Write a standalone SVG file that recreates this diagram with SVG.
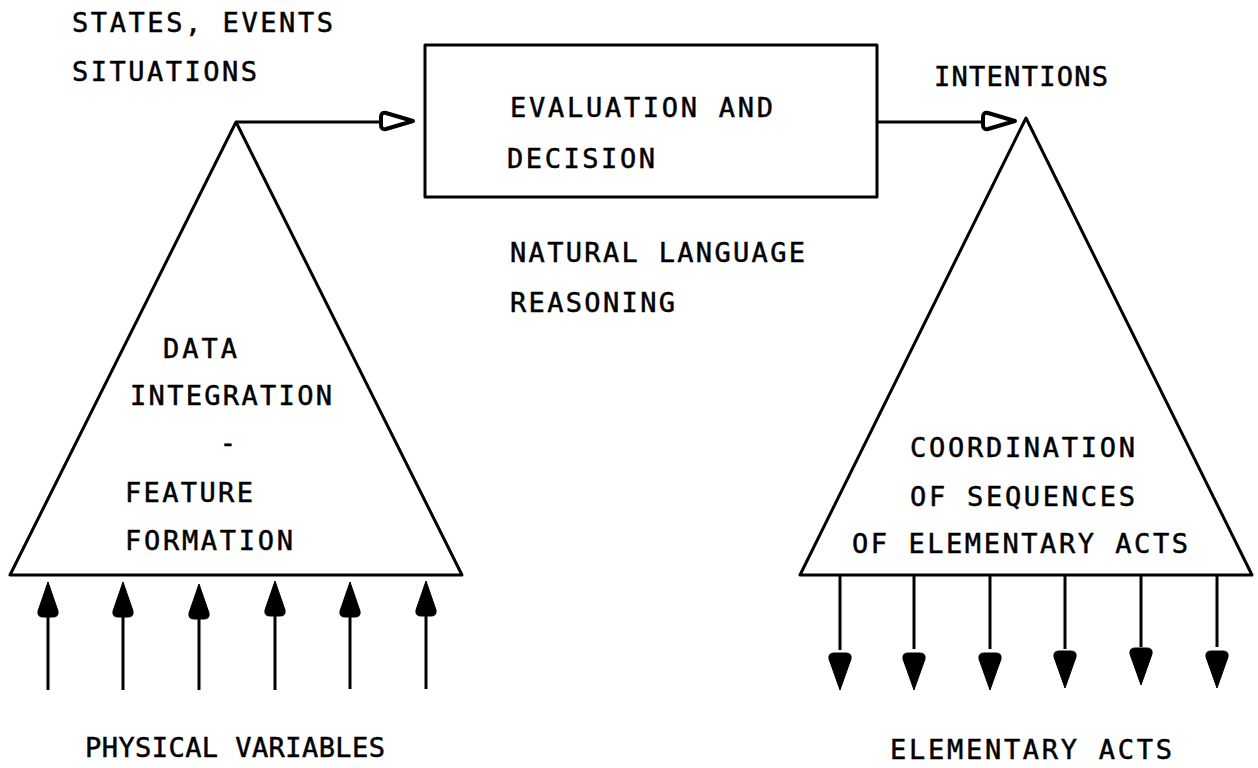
<svg xmlns="http://www.w3.org/2000/svg" xmlns:xlink="http://www.w3.org/1999/xlink" width="1258" height="768" viewBox="0 0 1258 768">
<style>
  .bg { fill: #ffffff; }
  .shape { fill: none; stroke: #000; stroke-width: 3; stroke-linejoin: round; }
  .line { stroke: #000; stroke-width: 3; fill: none; }
  .head { fill: #000; stroke: #000; stroke-width: 1; }
  .hhead { fill: #fff; stroke: #000; stroke-width: 4; stroke-linejoin: round; }
  text { font-family: "DejaVu Sans Mono", "Liberation Mono", monospace; font-size: 27px; fill: #000; stroke: #000; stroke-width: 0.5; }
</style>
<defs>
  <path id="headUp" d="M0,0 L10,29 Q11,35 5,35 L-5,35 Q-11,35 -10,29 Z"/>
  <path id="headDown" d="M0,0 L11,-31 Q12,-37 6,-37 L-6,-37 Q-12,-37 -11,-31 Z"/>
  <path id="headRight" d="M0,0 L-27,-8 Q-32,-9 -32,-4 L-32,4 Q-32,9 -27,8 Z"/>
</defs>
<rect class="bg" x="0" y="0" width="1258" height="768"/>

<g id="labels-top">
  <text x="72" y="32" textLength="261" lengthAdjust="spacing">STATES, EVENTS</text>
  <text x="72" y="81" textLength="185" lengthAdjust="spacing">SITUATIONS</text>
  <text x="934" y="86" textLength="174" lengthAdjust="spacing">INTENTIONS</text>
</g>

<g id="node-integration">
  <polygon class="shape" points="236,122 10,575 462,575"/>
  <text x="163" y="358" textLength="74" lengthAdjust="spacing">DATA</text>
  <text x="130" y="405" textLength="202" lengthAdjust="spacing">INTEGRATION</text>
  <text x="228" y="452" text-anchor="middle">-</text>
  <text x="125" y="502" textLength="128" lengthAdjust="spacing">FEATURE</text>
  <text x="125" y="550" textLength="168" lengthAdjust="spacing">FORMATION</text>
</g>

<g id="node-decision">
  <rect class="shape" x="425" y="45" width="452" height="152"/>
  <text x="510" y="117" textLength="263" lengthAdjust="spacing">EVALUATION AND</text>
  <text x="507" y="168" textLength="148" lengthAdjust="spacing">DECISION</text>
</g>

<g id="label-reasoning">
  <text x="510" y="262" textLength="295" lengthAdjust="spacing">NATURAL LANGUAGE</text>
  <text x="510" y="312" textLength="165" lengthAdjust="spacing">REASONING</text>
</g>

<g id="node-coordination">
  <polygon class="shape" points="1026,118 800,575 1252,575"/>
  <text x="910" y="457" textLength="225" lengthAdjust="spacing">COORDINATION</text>
  <text x="910" y="506" textLength="225" lengthAdjust="spacing">OF SEQUENCES</text>
  <text x="852" y="553" textLength="336" lengthAdjust="spacing">OF ELEMENTARY ACTS</text>
</g>

<g id="labels-bottom">
  <text x="85" y="757" textLength="300" lengthAdjust="spacing">PHYSICAL VARIABLES</text>
  <text x="890" y="759" textLength="282" lengthAdjust="spacing">ELEMENTARY ACTS</text>
</g>

<g id="connectors">
  <line class="line" x1="236" y1="122" x2="385" y2="122"/>
  <use xlink:href="#headRight" class="hhead" x="413" y="121"/>
  <line class="line" x1="877" y1="122" x2="986" y2="122"/>
  <use xlink:href="#headRight" class="hhead" x="1015" y="121"/>

  <line class="line" x1="48" y1="612" x2="48" y2="690"/>
  <use xlink:href="#headUp" class="head" x="48" y="582"/>
  <line class="line" x1="123" y1="612" x2="123" y2="690"/>
  <use xlink:href="#headUp" class="head" x="123" y="582"/>
  <line class="line" x1="199" y1="612" x2="199" y2="690"/>
  <use xlink:href="#headUp" class="head" x="199" y="584"/>
  <line class="line" x1="275" y1="612" x2="275" y2="690"/>
  <use xlink:href="#headUp" class="head" x="275" y="581"/>
  <line class="line" x1="350" y1="612" x2="350" y2="689"/>
  <use xlink:href="#headUp" class="head" x="350" y="582"/>
  <line class="line" x1="426" y1="612" x2="426" y2="689"/>
  <use xlink:href="#headUp" class="head" x="426" y="581"/>

  <line class="line" x1="840" y1="575" x2="840" y2="650"/>
  <use xlink:href="#headDown" class="head" x="840" y="690"/>
  <line class="line" x1="914" y1="575" x2="914" y2="649"/>
  <use xlink:href="#headDown" class="head" x="914" y="690"/>
  <line class="line" x1="990" y1="575" x2="990" y2="649"/>
  <use xlink:href="#headDown" class="head" x="990" y="690"/>
  <line class="line" x1="1065" y1="575" x2="1065" y2="649"/>
  <use xlink:href="#headDown" class="head" x="1065" y="688"/>
  <line class="line" x1="1141" y1="575" x2="1141" y2="647"/>
  <use xlink:href="#headDown" class="head" x="1141" y="685"/>
  <line class="line" x1="1217" y1="575" x2="1217" y2="647"/>
  <use xlink:href="#headDown" class="head" x="1217" y="688"/>
</g>
</svg>
